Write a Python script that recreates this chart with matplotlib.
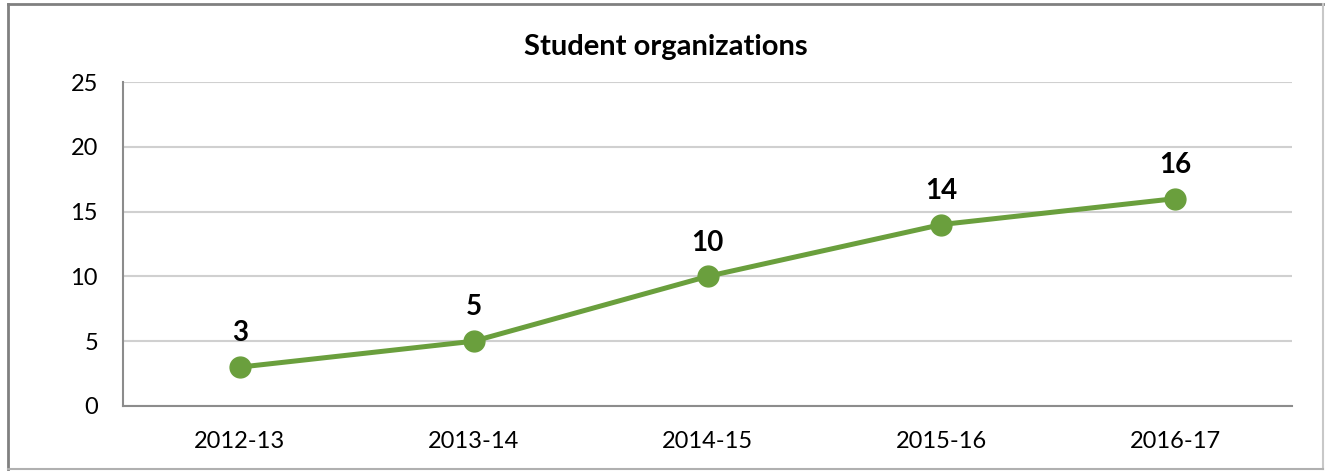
import matplotlib
matplotlib.use("Agg")
import matplotlib.pyplot as plt
from matplotlib.lines import Line2D

categories = ["2012-13", "2013-14", "2014-15", "2015-16", "2016-17"]
values = [3, 5, 10, 14, 16]
yticks = [0, 5, 10, 15, 20, 25]
title = "Student organizations"

plt.rcParams['font.family'] = ['Lato', 'DejaVu Sans']

W, H = 1325, 471
fig = plt.figure(figsize=(W / 100, H / 100), dpi=100)
ax = fig.add_axes([123 / W, 1 - 406 / H, (1292 - 123) / W, (406 - 82) / H])

x = list(range(len(categories)))
green = "#6a9f3d"
ax.plot(x, values, color=green, lw=3.6, marker="o", ms=15, zorder=3,
        solid_capstyle="round")
for xi, v in zip(x, values):
    ax.annotate(str(v), (xi, v), xytext=(0, 15), textcoords="offset points",
                ha="center", va="bottom", fontsize=20, fontweight="bold")

ax.set_xlim(-0.5, len(categories) - 0.5)
ax.set_ylim(0, 25)
ax.set_yticks(yticks)
ax.set_xticks(x)
ax.set_xticklabels(categories)
ax.tick_params(axis="both", length=0, labelsize=17)
ax.tick_params(axis="x", pad=18)
ax.tick_params(axis="y", pad=18)
ax.grid(axis="y", color="#d0d0d0", lw=1.5)
ax.set_axisbelow(True)
for s in ["top", "right"]:
    ax.spines[s].set_visible(False)
for s in ["left", "bottom"]:
    ax.spines[s].set_color("#8c8c8c")
    ax.spines[s].set_linewidth(1.5)

fig.text(666 / W, 1 - 47 / H, title, ha="center", va="center",
         fontsize=21, fontweight="bold")

# outer frame
fig.add_artist(Line2D([8 / W, 8 / W], [1 - 4 / H, 1 - 469 / H], color="#808080", lw=2, transform=fig.transFigure))
fig.add_artist(Line2D([8 / W, 1323 / W], [1 - 4 / H, 1 - 4 / H], color="#808080", lw=2, transform=fig.transFigure))
fig.add_artist(Line2D([1323 / W, 1323 / W], [1 - 4 / H, 1 - 469 / H], color="#c8c8c8", lw=1.5, transform=fig.transFigure))
fig.add_artist(Line2D([8 / W, 1323 / W], [1 - 469 / H, 1 - 469 / H], color="#b0b0b0", lw=1.5, transform=fig.transFigure))

fig.savefig("out.png", dpi=100)
